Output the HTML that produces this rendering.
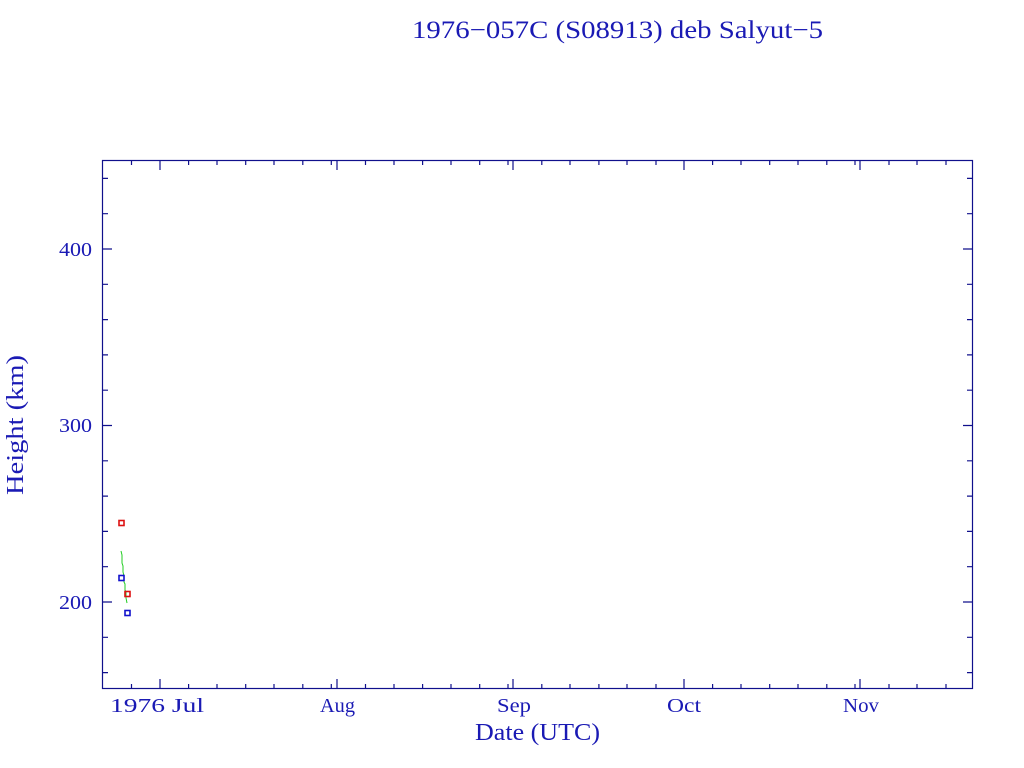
<!DOCTYPE html>
<html><head><meta charset="utf-8"><style>
html,body{margin:0;padding:0;background:#fff;}
svg{display:block;}
text{font-family:"Liberation Serif","DejaVu Serif",serif;fill:#1a1ab4;}
</style></head><body>
<svg width="1024" height="768" viewBox="0 0 1024 768" xmlns="http://www.w3.org/2000/svg">
<rect width="1024" height="768" fill="#fff"/>
<text x="412" y="38" font-size="25" textLength="411" lengthAdjust="spacingAndGlyphs">1976−057C (S08913) deb Salyut−5</text>
<rect x="102.5" y="160.5" width="870" height="528" fill="none" stroke="#10108c" stroke-width="1.2"/>
<g stroke="#10108c" stroke-width="1.2">
<path d="M160 689v-10M337 689v-10M513 689v-10M684 689v-10M860 689v-10M160 160v10M337 160v10M513 160v10M684 160v10M860 160v10"/>
<path d="M131.5 689v-5M188.6 689v-5M217 689v-5M245.7 689v-5M274 689v-5M302.8 689v-5M331.3 689v-5M365.5 689v-5M394 689v-5M422.6 689v-5M451 689v-5M479.7 689v-5M508 689v-5M541.8 689v-5M570 689v-5M598.9 689v-5M627 689v-5M656 689v-5M712.6 689v-5M741 689v-5M769.7 689v-5M798 689v-5M826.8 689v-5M855 689v-5M889 689v-5M917 689v-5M946 689v-5"/>
<path d="M131.5 160v5M188.6 160v5M217 160v5M245.7 160v5M274 160v5M302.8 160v5M331.3 160v5M365.5 160v5M394 160v5M422.6 160v5M451 160v5M479.7 160v5M508 160v5M541.8 160v5M570 160v5M598.9 160v5M627 160v5M656 160v5M712.6 160v5M741 160v5M769.7 160v5M798 160v5M826.8 160v5M855 160v5M889 160v5M917 160v5M946 160v5"/>
<path d="M102 602h10M102 425.5h10M102 249h10M973 602h-10M973 425.5h-10M973 249h-10"/>
<path d="M102 672.6h6M102 637.3h6M102 566.7h6M102 531.4h6M102 496.1h6M102 460.8h6M102 390.2h6M102 354.9h6M102 319.6h6M102 284.3h6M102 213.7h6M102 178.4h6"/>
<path d="M973 672.6h-6M973 637.3h-6M973 566.7h-6M973 531.4h-6M973 496.1h-6M973 460.8h-6M973 390.2h-6M973 354.9h-6M973 319.6h-6M973 284.3h-6M973 213.7h-6M973 178.4h-6"/>
</g>
<g font-size="20">
<text x="110" y="712" textLength="94" lengthAdjust="spacingAndGlyphs">1976 Jul</text>
<text x="320" y="712" textLength="35" lengthAdjust="spacingAndGlyphs">Aug</text>
<text x="497" y="712" textLength="34" lengthAdjust="spacingAndGlyphs">Sep</text>
<text x="667" y="712" textLength="34" lengthAdjust="spacingAndGlyphs">Oct</text>
<text x="843" y="712" textLength="36" lengthAdjust="spacingAndGlyphs">Nov</text>
<text x="59" y="609" textLength="33" lengthAdjust="spacingAndGlyphs">200</text>
<text x="59" y="432" textLength="33" lengthAdjust="spacingAndGlyphs">300</text>
<text x="59" y="256" textLength="33" lengthAdjust="spacingAndGlyphs">400</text>
</g>
<text x="475" y="740" font-size="24" textLength="125" lengthAdjust="spacingAndGlyphs">Date (UTC)</text>
<text transform="translate(23 495) rotate(-90)" font-size="24" textLength="140" lengthAdjust="spacingAndGlyphs">Height (km)</text>
<polyline points="121,551 122,555 122,563 123,566 123,572 124,576 124,582 125,584 125,590 126,592 126,598 127,603" fill="none" stroke="#22cc22" stroke-width="1"/>
<rect x="119" y="520.5" width="5" height="5" fill="none" stroke="#dd1111" stroke-width="1.6"/>
<rect x="125" y="591.5" width="5" height="5" fill="none" stroke="#dd1111" stroke-width="1.6"/>
<rect x="119" y="575.5" width="5" height="5" fill="none" stroke="#1111cc" stroke-width="1.6"/>
<rect x="125" y="610.5" width="5" height="5" fill="none" stroke="#1111cc" stroke-width="1.6"/>
</svg>
</body></html>
